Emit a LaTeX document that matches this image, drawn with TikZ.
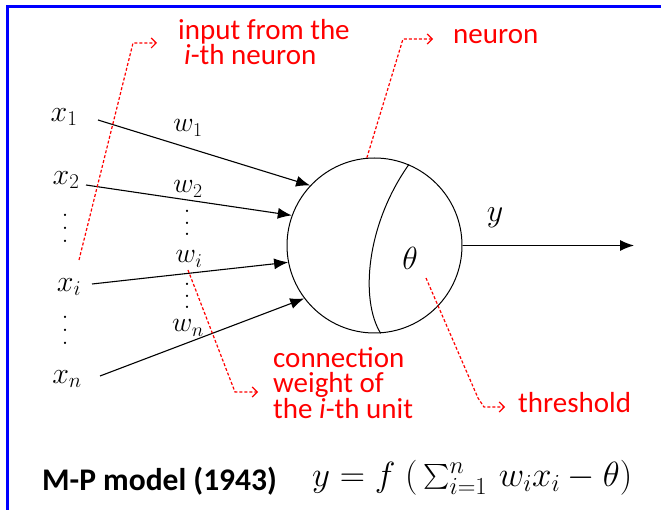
\documentclass[tikz,border=0pt]{standalone}
\usepackage{fix-cm}
\usepackage{amsmath}
\usepackage{fontspec}
\newfontfamily\calibrifont{Carlito}
\usetikzlibrary{arrows.meta}
\newcommand\myvd[1]{\vbox{\baselineskip=#1\lineskiplimit=-10pt\hbox{.}\hbox{.}\hbox{.}}}
\begin{document}
\begin{tikzpicture}[x=1pt,y=-1pt,
  mathlbl/.style={inner sep=0pt, font=\fontsize{30}{36}\selectfont},
  wlbl/.style={inner sep=0pt, font=\fontsize{28}{34}\selectfont},
  dotsbox/.style={inner sep=0pt, font=\fontsize{28}{34}\selectfont},
  redtxt/.style={text=red, inner sep=0pt, align=left, anchor=base west,
    font=\calibrifont\fontsize{29}{25.5}\selectfont},
  inarrow/.style={-{Latex[length=14pt,width=11pt]}, line width=1.1pt},
  reddash/.style={red, dash pattern=on 3pt off 2pt, line width=1.2pt,
    -{Straight Barb[length=5pt,width=10pt]}},
  neuronshape/.style={circle, draw, line width=1pt, minimum size=175pt, inner sep=0pt}]
\useasboundingbox (0,0) rectangle (661,510);
\fill[white] (0,0) rectangle (661,510);
\draw[blue, line width=3pt] (661,7) -- (7,7) -- (7,510);

% neuron
\node[neuronshape] (neuron) at (374.5,245.5) {};
\draw[line width=1pt] (neuron.67) .. controls (366,225) and (360,300) .. (neuron.274);
\node[mathlbl, font=\fontsize{32}{38}\selectfont] (theta) at (410,258) {$\theta$};
\node[mathlbl, font=\fontsize{32}{38}\selectfont] (y) at (495,218) {$y$};
\coordinate (out) at (634,245.5);
\draw[inarrow] (neuron.east) -- (out);

% inputs
\node[mathlbl] (x1) at (64,117) {$x_1$};
\node[mathlbl] (x2) at (66,180) {$x_2$};
\node[dotsbox] (xd1) at (65,228) {\myvd{13pt}};
\node[mathlbl] (xi) at (69,287) {$x_i$};
\node[dotsbox] (xd2) at (65,330) {\myvd{13pt}};
\node[mathlbl] (xn) at (67,379) {$x_n$};

\node[wlbl] (w1) at (188,128) {$w_1$};
\node[wlbl] (w2) at (188,189) {$w_2$};
\node[dotsbox] (wd1) at (187,223) {\myvd{11.5pt}};
\node[wlbl] (wi) at (189,259) {$w_i$};
\node[dotsbox] (wd2) at (187,296) {\myvd{11.5pt}};
\node[wlbl] (wn) at (188,328) {$w_n$};

\coordinate (s1) at (98,120);
\coordinate (s2) at (86,185);
\coordinate (si) at (92,284);
\coordinate (sn) at (100,376);
\draw[inarrow] (s1) -- (neuron.137);
\draw[inarrow] (s2) -- (neuron.160);
\draw[inarrow] (si) -- (neuron.191);
\draw[inarrow] (sn) -- (neuron.217);

% red annotations
\coordinate (a1) at (79,260);
\coordinate (a1c) at (133,43);
\coordinate (a1t) at (157,43);
\draw[reddash] (a1) -- (a1c) -- (a1t);
\coordinate (a2c) at (403,39);
\coordinate (a2t) at (433,39);
\draw[reddash] (neuron.95) -- (a2c) -- (a2t);
\coordinate (a3) at (188,270);
\coordinate (a3c) at (235,392);
\coordinate (a3t) at (258,392);
\draw[reddash] (a3) -- (a3c) -- (a3t);
\coordinate (a4) at (426,278);
\coordinate (a4c) at (478,398);
\coordinate (a4d) at (484,407);
\coordinate (a4t) at (505,407);
\draw[reddash] (a4) -- (a4c) -- (a4d) -- (a4t);

\node[redtxt] (t1) at (178,65) {input from the\\\hspace*{6pt}\textit{i}-th neuron};
\node[redtxt] (t2) at (453,44) {neuron};
\node[redtxt] (t3) at (273,418) {connection\\weight of\\the \textit{i}-th unit};
\node[redtxt] (t4) at (518,412) {threshold};

% bottom
\node[inner sep=0pt, anchor=base west, font=\calibrifont\bfseries\fontsize{31.5}{36}\selectfont] (mp) at (42,490) {M-P model (1943)};
\node[inner sep=0pt, anchor=base west, font=\fontsize{35}{40}\selectfont] (eq) at (312,486) {$y = f\;(\,\sum_{i=1}^{n}\, w_i x_i - \theta)$};
\end{tikzpicture}
\end{document}
